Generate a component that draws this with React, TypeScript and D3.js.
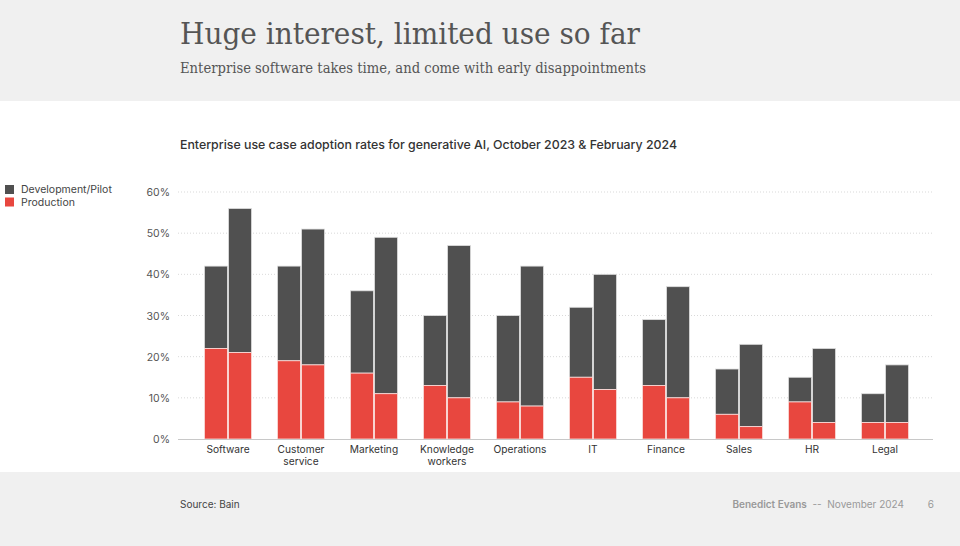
import { useRef, useEffect } from 'react'
import * as d3 from 'd3'

const categories = [
  'Software',
  'Customer service',
  'Marketing',
  'Knowledge workers',
  'Operations',
  'IT',
  'Finance',
  'Sales',
  'HR',
  'Legal',
]
const periods = ['Oct 2023', 'Feb 2024']
// total adoption (dev/pilot + production) and production, per period
const totalOct = [42, 42, 36, 30, 30, 32, 29, 17, 15, 11]
const prodOct = [22, 19, 16, 13, 9, 15, 13, 6, 9, 4]
const totalFeb = [56, 51, 49, 47, 42, 40, 37, 23, 22, 18]
const prodFeb = [21, 18, 11, 10, 8, 12, 10, 3, 4, 4]
const yTicks = [0, 10, 20, 30, 40, 50, 60]
const legendItems = ['Development/Pilot', 'Production']

const DARK = '#505050'
const RED = '#e8473f'
const SANS = 'Inter, "Noto Sans", sans-serif'
const SERIF = '"DejaVu Serif", serif'

const App = () => {
  const ref = useRef<SVGSVGElement>(null)

  useEffect(() => {
    document.body.style.margin = '0'
    if (!ref.current) return
    const svg = d3.select(ref.current)
    svg.selectAll('*').remove()
    const width = 960
    const height = 546

    // background bands
    svg.append('rect').attr('width', width).attr('height', height).attr('fill', '#f0f0f0')
    svg.append('rect').attr('y', 101).attr('width', width).attr('height', 371).attr('fill', '#ffffff')

    svg.append('text')
      .attr('x', 180).attr('y', 44)
      .attr('font-family', SERIF).attr('font-size', 29)
      .attr('fill', '#555').attr('textLength', 460).attr('lengthAdjust', 'spacingAndGlyphs')
      .text('Huge interest, limited use so far')
    svg.append('text')
      .attr('x', 180).attr('y', 73)
      .attr('font-family', SERIF).attr('font-size', 14.5)
      .attr('fill', '#555').attr('textLength', 466).attr('lengthAdjust', 'spacingAndGlyphs')
      .text('Enterprise software takes time, and come with early disappointments')

    svg.append('text')
      .attr('x', 180).attr('y', 149)
      .attr('font-family', SANS).attr('font-size', 12.3).attr('font-weight', 500)
      .attr('fill', '#333').attr('textLength', 497).attr('lengthAdjust', 'spacingAndGlyphs')
      .text('Enterprise use case adoption rates for generative AI, October 2023 & February 2024')

    // legend
    const legendColors = [DARK, RED]
    legendItems.forEach((name, i) => {
      svg.append('rect')
        .attr('x', 5).attr('y', 185 + i * 12.5).attr('width', 9).attr('height', 9)
        .attr('fill', legendColors[i])
      svg.append('text')
        .attr('x', 21).attr('y', 193 + i * 12.5)
        .attr('font-family', SANS).attr('font-size', 10.5)
        .attr('fill', '#444')
        .text(name)
    })

    const left = 178
    const right = 933
    const y = d3.scaleLinear().domain([0, 60]).range([439, 192])
    const x0 = d3.scaleBand<string>().domain(categories).range([191.5, 921.5]).paddingInner(0.34).paddingOuter(0.17)
    const x1 = d3.scaleBand<string>().domain(periods).range([0, x0.bandwidth()]).padding(0)

    const g = svg.append('g')

    // gridlines
    g.selectAll('.grid')
      .data(yTicks.filter(t => t > 0))
      .enter()
      .append('line')
      .attr('x1', left).attr('x2', right)
      .attr('y1', d => y(d)).attr('y2', d => y(d))
      .attr('stroke', '#cfcfcf').attr('stroke-width', 0.8).attr('stroke-dasharray', '1,2')

    g.selectAll('.ytick')
      .data(yTicks)
      .enter()
      .append('text')
      .attr('x', 170).attr('y', d => y(d) + 4)
      .attr('text-anchor', 'end')
      .attr('font-family', SANS).attr('font-size', 10.5)
      .attr('fill', '#555')
      .text(d => `${d}%`)

    const rows = categories.flatMap((c, i) => [
      { cat: c, period: periods[0], total: totalOct[i], prod: prodOct[i] },
      { cat: c, period: periods[1], total: totalFeb[i], prod: prodFeb[i] },
    ])

    const barX = (d: { cat: string; period: string }) => (x0(d.cat) || 0) + (x1(d.period) || 0)

    g.selectAll('.dev')
      .data(rows)
      .enter()
      .append('rect')
      .attr('x', d => barX(d) + 0.5)
      .attr('y', d => y(d.total))
      .attr('width', x1.bandwidth() - 1)
      .attr('height', d => y(d.prod) - y(d.total))
      .attr('fill', DARK)
      .attr('stroke', '#e0e0e0').attr('stroke-width', 0.8)

    g.selectAll('.prod')
      .data(rows)
      .enter()
      .append('rect')
      .attr('x', d => barX(d) + 0.5)
      .attr('y', d => y(d.prod))
      .attr('width', x1.bandwidth() - 1)
      .attr('height', d => y(0) - y(d.prod))
      .attr('fill', RED)
      .attr('stroke', '#fbe0de').attr('stroke-width', 0.8)

    // baseline
    g.append('line')
      .attr('x1', left).attr('x2', right)
      .attr('y1', y(0) + 0.5).attr('y2', y(0) + 0.5)
      .attr('stroke', '#c8c8c8').attr('stroke-width', 1)

    // category labels
    categories.forEach(c => {
      const words = c.split(' ')
      const t = g.append('text')
        .attr('x', (x0(c) || 0) + x0.bandwidth() / 2)
        .attr('y', 453)
        .attr('text-anchor', 'middle')
        .attr('font-family', SANS).attr('font-size', 10.2)
        .attr('fill', '#333')
      words.forEach((w, i) => {
        t.append('tspan')
          .attr('x', (x0(c) || 0) + x0.bandwidth() / 2)
          .attr('dy', i === 0 ? 0 : 12)
          .text(w)
      })
    })

    // footer
    svg.append('text')
      .attr('x', 180).attr('y', 508)
      .attr('font-family', SANS).attr('font-size', 10)
      .attr('fill', '#444')
      .text('Source: Bain')
    const foot = svg.append('text')
      .attr('x', 904).attr('y', 508)
      .attr('text-anchor', 'end')
      .attr('font-family', SANS).attr('font-size', 10)
      .attr('fill', '#999')
    foot.append('tspan').attr('font-weight', 600).text('Benedict Evans')
    foot.append('tspan').text('\u00a0\u00a0--\u00a0\u00a0November 2024')
    svg.append('text')
      .attr('x', 934).attr('y', 508)
      .attr('text-anchor', 'end')
      .attr('font-family', SANS).attr('font-size', 10)
      .attr('fill', '#999')
      .text('6')
  }, [])

  return <svg ref={ref} width={960} height={546} style={{ display: 'block' }} />
}

export default App
